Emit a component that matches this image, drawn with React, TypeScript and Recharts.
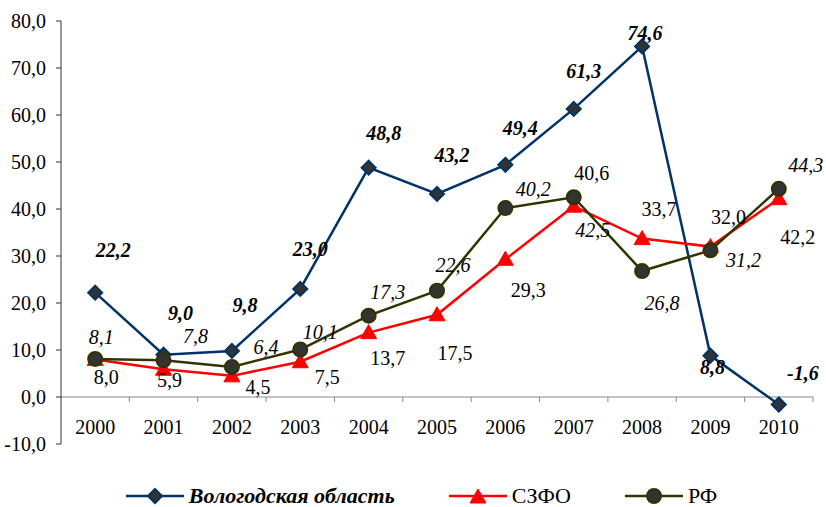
import React from "react"
import {
  LineChart,
  Line,
  XAxis,
  YAxis,
  ReferenceLine,
  Legend,
  LabelList,
} from "recharts"

const years = ["2000", "2001", "2002", "2003", "2004", "2005", "2006", "2007", "2008", "2009", "2010"]
const vologda = [22.2, 9.0, 9.8, 23.0, 48.8, 43.2, 49.4, 61.3, 74.6, 8.8, -1.6]
const szfo = [8.0, 5.9, 4.5, 7.5, 13.7, 17.5, 29.3, 40.6, 33.7, 32.0, 42.2]
const rf = [8.1, 7.8, 6.4, 10.1, 17.3, 22.6, 40.2, 42.5, 26.8, 31.2, 44.3]
const yTicks = [-10, 0, 10, 20, 30, 40, 50, 60, 70, 80]

// label offsets (dx, dy) from each point, as the labels were placed in the original
const vologdaLabelPos = [[18, -43], [17, -42], [13, -46], [10, -40], [15, -35], [15, -39], [15, -37], [10, -38], [3, -13], [2, 11], [24, -32]]
const szfoLabelPos = [[11, 18], [6, 11], [26, 11], [27, 15], [19, 25], [18, 38], [23, 31], [18, -33], [17, -30], [18, -30], [19, 38]]
const rfLabelPos = [[6, -22], [32, -24], [34, -20], [20, -18], [19, -24], [16, -26], [28, -19], [19, 33], [20, 32], [33, 10], [27, -24]]

const data = years.map((year, i) => ({
  year,
  vologda: vologda[i],
  szfo: szfo[i],
  rf: rf[i],
}))

const W = 826
const H = 507
const M = { top: 21, right: 13, left: 0, bottom: 0 }
const Y_AXIS_W = 61
const X_AXIS_H = 33
const LEGEND_H = 30
const plotW = W - M.right - Y_AXIS_W
const plotH = H - M.top - X_AXIS_H - LEGEND_H
const bandW = plotW / years.length
const zeroFromBottom = (10 / 90) * plotH

const FONT = "'Times New Roman', 'Liberation Serif', 'Liberation Sans', sans-serif"
const FS = 20
const NAVY = "#003366"
const RED = "#FF0000"
const OLIVE = "#333300"
const DARK = "#333333"

const fmt = (v: number) => v.toFixed(1).replace(".", ",")

function Diamond({ cx, cy }: any) {
  if (cx == null || cy == null) return null
  const r = 7
  return (
    <polygon
      points={`${cx},${cy - r} ${cx + r},${cy} ${cx},${cy + r} ${cx - r},${cy}`}
      fill={DARK}
      stroke={NAVY}
      strokeWidth={2}
    />
  )
}

function Triangle({ cx, cy }: any) {
  if (cx == null || cy == null) return null
  return (
    <polygon
      points={`${cx},${cy - 8} ${cx + 8},${cy + 6} ${cx - 8},${cy + 6}`}
      fill={RED}
      stroke={RED}
      strokeWidth={1}
    />
  )
}

function Circle({ cx, cy }: any) {
  if (cx == null || cy == null) return null
  return <circle cx={cx} cy={cy} r={7} fill={DARK} stroke={OLIVE} strokeWidth={2} />
}

function makeLabel(pos: number[][], style: "bold" | "italic" | "plain") {
  return (props: any) => {
    const { x, y, value, index } = props
    if (x == null || y == null) return null
    const [dx, dy] = pos[index] || [0, -20]
    return (
      <text
        x={x + dx}
        y={y + dy}
        textAnchor="middle"
        dominantBaseline="central"
        style={{ fontFamily: FONT, fontSize: FS }}
        fontWeight={style === "bold" ? 700 : 400}
        fontStyle={style === "plain" ? "normal" : "italic"}
        fill="#000"
      >
        {fmt(value)}
      </text>
    )
  }
}

function YearTick({ x, y, payload }: any) {
  const zeroY = y - 8 - zeroFromBottom
  return (
    <g>
      <line x1={x + bandW / 2} x2={x + bandW / 2} y1={zeroY} y2={zeroY + 5} stroke="#888" strokeWidth={1} />
      <text
        x={x}
        y={zeroY + 30}
        textAnchor="middle"
        dominantBaseline="central"
        style={{ fontFamily: FONT, fontSize: FS }}
        fill="#000"
      >
        {payload.value}
      </text>
    </g>
  )
}

function ValueTick({ x, y, payload }: any) {
  return (
    <text
      x={x - 8}
      y={y}
      textAnchor="end"
      dominantBaseline="central"
      style={{ fontFamily: FONT, fontSize: FS }}
      fill="#000"
    >
      {fmt(payload.value)}
    </text>
  )
}

function LegendIcon({ kind }: { kind: string }) {
  return (
    <svg width={58} height={20} style={{ display: "block" }}>
      {kind === "vologda" && (
        <>
          <line x1={0} x2={58} y1={10} y2={10} stroke={NAVY} strokeWidth={2.5} />
          <Diamond cx={29} cy={10} />
        </>
      )}
      {kind === "szfo" && (
        <>
          <line x1={0} x2={58} y1={10} y2={10} stroke={RED} strokeWidth={2.5} />
          <Triangle cx={29} cy={11} />
        </>
      )}
      {kind === "rf" && (
        <>
          <line x1={0} x2={58} y1={10} y2={10} stroke={OLIVE} strokeWidth={2.5} />
          <Circle cx={29} cy={10} />
        </>
      )}
    </svg>
  )
}

function ChartLegend() {
  const items = [
    { kind: "vologda", label: "Вологодская область", bold: true },
    { kind: "szfo", label: "СЗФО", bold: false },
    { kind: "rf", label: "РФ", bold: false },
  ]
  return (
    <div
      style={{
        display: "flex",
        justifyContent: "center",
        alignItems: "center",
        gap: 54,
        fontFamily: FONT,
        fontSize: 22,
        height: LEGEND_H,
        paddingLeft: 30,
        paddingTop: 8,
        boxSizing: "border-box",
      }}
    >
      {items.map((it) => (
        <div key={it.kind} style={{ display: "flex", alignItems: "center", gap: 5 }}>
          <LegendIcon kind={it.kind} />
          <span style={{ fontWeight: it.bold ? 700 : 400, fontStyle: it.bold ? "italic" : "normal" }}>
            {it.label}
          </span>
        </div>
      ))}
    </div>
  )
}

export default function App() {
  return (
    <div style={{ position: "absolute", left: 0, top: 0, width: W, height: H, background: "#fff", fontFamily: FONT }}>
      <LineChart width={W} height={H} data={data} margin={M} style={{ fontFamily: FONT }}>
        <XAxis
          dataKey="year"
          height={X_AXIS_H}
          axisLine={false}
          tickLine={false}
          tick={<YearTick />}
          interval={0}
          padding={{ left: bandW / 2, right: bandW / 2 }}
        />
        <YAxis
          width={Y_AXIS_W}
          domain={[-10, 80]}
          ticks={yTicks}
          interval={0}
          axisLine={{ stroke: "#333", strokeWidth: 1 }}
          tickLine={{ stroke: "#333" }}
          tickSize={5}
          tick={<ValueTick />}
        />
        <ReferenceLine y={0} stroke="#888" strokeWidth={1} />
        <Legend
          verticalAlign="bottom"
          height={LEGEND_H}
          content={() => <ChartLegend />}
        />
        <Line
          type="linear"
          dataKey="vologda"
          stroke={NAVY}
          strokeWidth={2.5}
          dot={<Diamond />}
          activeDot={false}
          isAnimationActive={false}
        >
          <LabelList dataKey="vologda" content={makeLabel(vologdaLabelPos, "bold")} />
        </Line>
        <Line
          type="linear"
          dataKey="szfo"
          stroke={RED}
          strokeWidth={2.5}
          dot={<Triangle />}
          activeDot={false}
          isAnimationActive={false}
        >
          <LabelList dataKey="szfo" content={makeLabel(szfoLabelPos, "plain")} />
        </Line>
        <Line
          type="linear"
          dataKey="rf"
          stroke={OLIVE}
          strokeWidth={2.5}
          dot={<Circle />}
          activeDot={false}
          isAnimationActive={false}
        >
          <LabelList dataKey="rf" content={makeLabel(rfLabelPos, "italic")} />
        </Line>
      </LineChart>
    </div>
  )
}
